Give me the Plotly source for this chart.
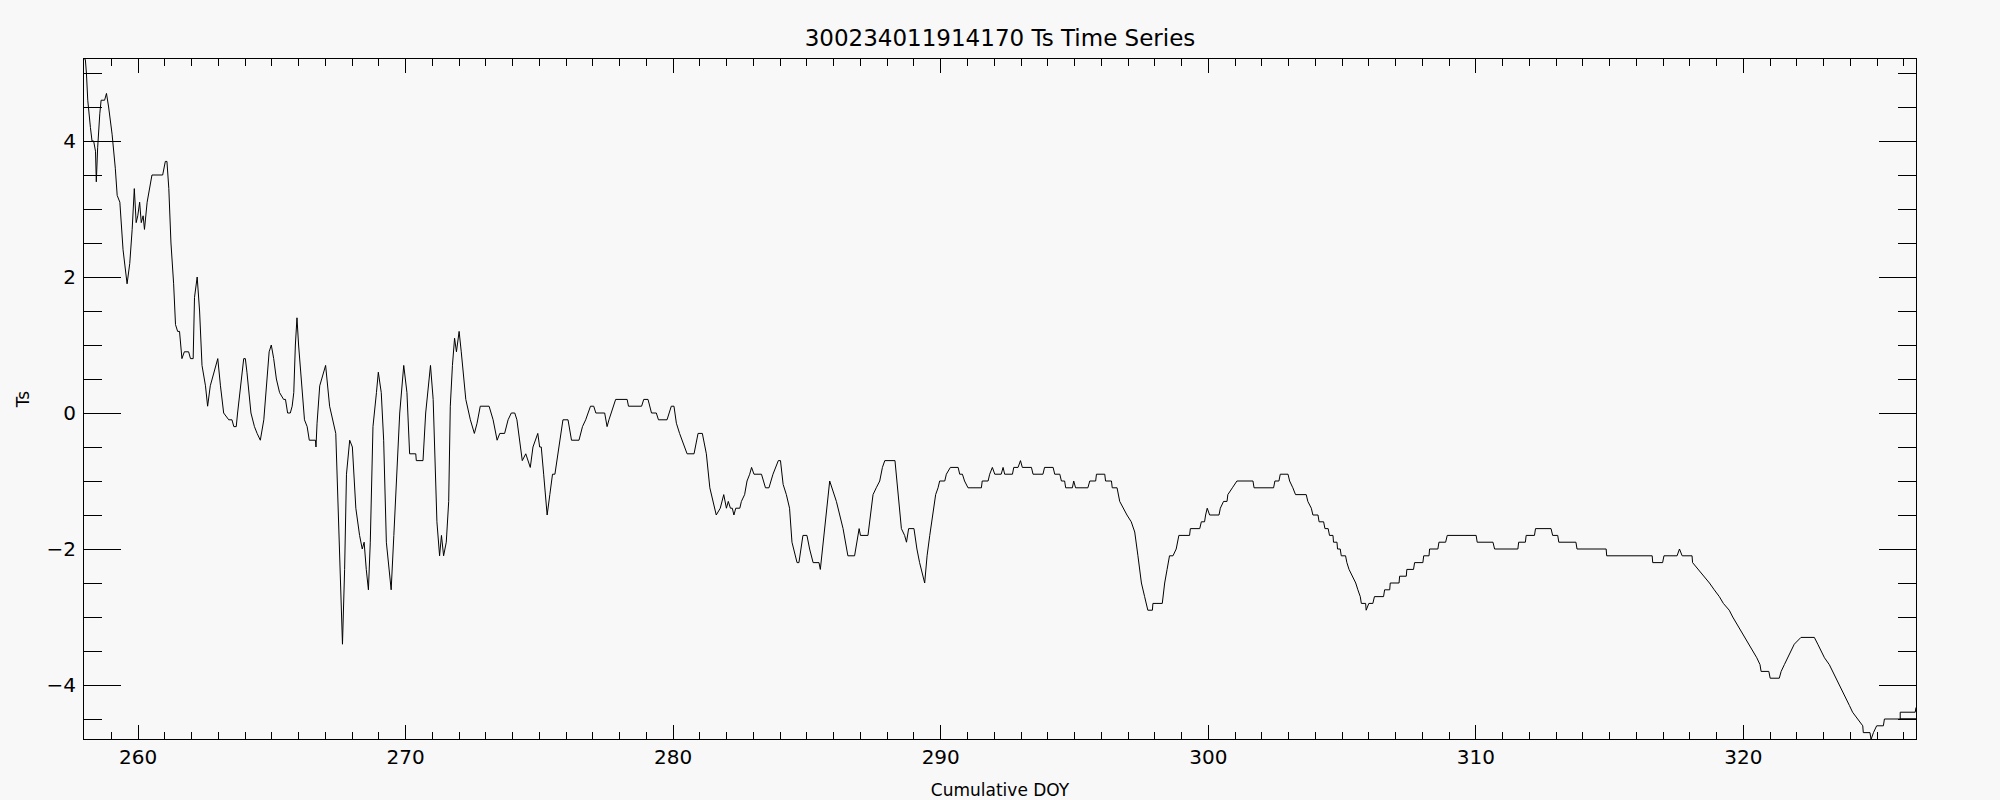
import plotly.graph_objects as go

# Cumulative day of year
doy = [
    258.00, 258.03, 258.07, 258.12, 258.22, 258.28, 258.34, 258.41, 258.44, 258.49,
    258.57, 258.62, 258.75, 258.82, 258.90, 259.03, 259.15, 259.22, 259.32, 259.44,
    259.59, 259.69, 259.78, 259.86, 259.93, 259.99, 260.06, 260.12, 260.19, 260.24,
    260.34, 260.52, 260.92, 261.02, 261.08, 261.15, 261.23, 261.33, 261.40, 261.48,
    261.55, 261.64, 261.73, 261.89, 261.96, 262.06, 262.11, 262.21, 262.30, 262.39,
    262.52, 262.60, 262.70, 262.85, 262.98, 263.08, 263.20, 263.39, 263.51, 263.58,
    263.67, 263.72, 263.85, 263.95, 264.01, 264.07, 264.22, 264.35, 264.45, 264.57,
    264.70, 264.80, 264.90, 264.98, 265.07, 265.17, 265.29, 265.44, 265.51, 265.59,
    265.69, 265.76, 265.82, 265.88, 265.94, 266.00, 266.13, 266.22, 266.32, 266.40,
    266.63, 266.65, 266.69, 266.79,
    267.01, 267.16, 267.39, 267.48, 267.56, 267.64, 267.72, 267.79, 267.91, 268.01,
    268.14, 268.28, 268.38, 268.45, 268.53, 268.61, 268.68, 268.78, 268.91, 268.98,
    269.09, 269.18, 269.28, 269.38, 269.46, 269.56, 269.68, 269.78, 269.93, 270.05,
    270.15, 270.38, 270.40, 270.65, 270.75, 270.93, 271.03, 271.13, 271.17, 271.27,
    271.34, 271.42, 271.52, 271.61, 271.67, 271.75, 271.83, 271.90, 272.00, 272.08,
    272.25, 272.42, 272.57, 272.67, 272.79, 273.12, 273.27, 273.42, 273.52, 273.70,
    273.83, 273.95, 274.08, 274.16, 274.26, 274.36, 274.49, 274.58, 274.66, 274.76,
    274.94, 275.01, 275.07, 275.16, 275.29, 275.39, 275.49, 275.58, 275.76,
    275.88, 276.07, 276.20, 276.48, 276.61, 276.73, 276.91, 277.03, 277.11, 277.44,
    277.53, 277.60, 277.69, 277.85, 278.28, 278.33, 278.82, 278.90, 279.06, 279.19,
    279.37, 279.45, 279.77, 279.93, 280.03, 280.12, 280.24, 280.43, 280.52, 280.78,
    280.93, 281.09, 281.24, 281.37, 281.49, 281.61, 281.76, 281.89, 281.99, 282.06,
    282.14, 282.21, 282.27, 282.34, 282.49, 282.55, 282.67, 282.76, 282.86, 282.93,
    283.02, 283.30, 283.45, 283.58, 283.73, 283.83, 283.93, 284.01, 284.11, 284.23,
    284.35, 284.44, 284.63, 284.70, 284.85, 285.00, 285.10, 285.23, 285.45, 285.50,
    285.60, 285.72, 285.85,
    286.10, 286.35, 286.53, 286.78, 286.95, 287.00, 287.28, 287.47, 287.59, 287.72,
    287.82, 287.91, 288.29, 288.40, 288.53, 288.65, 288.72, 288.80, 289.00, 289.11,
    289.21, 289.40, 289.49, 289.59, 289.71, 289.81, 289.90, 289.96, 290.15, 290.21,
    290.36, 290.65, 290.71, 290.81, 290.89, 291.02, 291.52, 291.55, 291.77, 291.83,
    291.93, 292.02, 292.26, 292.33, 292.39, 292.68, 292.73, 292.89, 292.98, 293.05,
    293.39, 293.45, 293.82, 293.88, 294.20, 294.26, 294.45, 294.51, 294.63, 294.67,
    294.92, 294.97, 295.04, 295.50, 295.57, 295.79, 295.82, 296.13, 296.16, 296.38,
    296.41, 296.59, 296.69, 296.81, 296.96, 297.12, 297.25, 297.37, 297.50, 297.62,
    297.74,
    297.91, 297.93, 298.28, 298.37, 298.46, 298.55, 298.68, 298.80, 298.90, 299.30,
    299.33, 299.68, 299.74, 299.86, 299.90, 299.96, 300.05, 300.40, 300.45, 300.57,
    300.70, 300.73, 300.90, 301.07, 301.67, 301.71, 302.44, 302.49, 302.64, 302.69,
    302.98, 303.04, 303.16, 303.26, 303.66, 303.72, 303.85, 303.91, 304.10, 304.14,
    304.31, 304.36, 304.48, 304.53, 304.66, 304.68, 304.81, 304.83, 304.93, 304.97,
    305.13, 305.18, 305.26, 305.38, 305.51, 305.59, 305.68, 305.72, 305.88, 305.90,
    306.00, 306.15, 306.21, 306.55, 306.59, 306.78, 306.80, 307.13, 307.15, 307.40,
    307.42, 307.67, 307.71, 308.02, 308.05, 308.25, 308.27, 308.58, 308.62, 308.87,
    308.93, 310.01, 310.05, 310.64, 310.70,
    311.57, 311.60, 311.85, 311.88, 312.19, 312.23, 312.81, 312.87, 313.06, 313.10,
    313.74, 313.78, 314.87, 314.89, 316.59, 316.61, 316.98, 317.03, 317.52, 317.61,
    317.71, 318.08, 318.10, 318.32, 318.54, 318.73, 318.91, 319.10, 319.25, 319.47,
    319.60, 319.75, 319.91, 320.04, 320.22, 320.35, 320.50, 320.62, 320.66, 320.95,
    321.00, 321.34, 321.41, 321.53, 321.66, 321.78, 321.90, 322.15, 322.65, 322.78,
    322.90, 323.03, 323.21, 323.34, 323.46, 323.59, 323.71, 323.84, 323.96, 324.08,
    324.27, 324.46, 324.48, 324.73, 324.77, 324.86, 324.98, 325.23, 325.27, 326.45,
    325.86, 325.86, 326.42, 326.45,
]

# Surface temperature Ts
ts = [
    5.2, 5.2, 5.0, 4.6, 4.2, 4.0, 4.0, 3.85, 3.4, 3.9,
    4.4, 4.6, 4.6, 4.7, 4.5, 4.1, 3.6, 3.2, 3.1, 2.4,
    1.9, 2.2, 2.7, 3.3, 2.8, 2.9, 3.1, 2.8, 2.9, 2.7,
    3.1, 3.5, 3.5, 3.7, 3.7, 3.3, 2.5, 1.9, 1.3, 1.2,
    1.2, 0.8, 0.9, 0.9, 0.8, 0.8, 1.7, 2.0, 1.5, 0.7,
    0.4, 0.1, 0.4, 0.6, 0.8, 0.4, 0.0, -0.1, -0.1, -0.2,
    -0.2, 0.0, 0.5, 0.8, 0.8, 0.6, 0.0, -0.2, -0.3, -0.4,
    -0.1, 0.4, 0.9, 1.0, 0.8, 0.5, 0.3, 0.2, 0.2, 0.0,
    0.0, 0.1, 0.3, 1.0, 1.4, 1.0, 0.3, -0.1, -0.2, -0.4,
    -0.4, -0.5, -0.15, 0.4,
    0.7, 0.1, -0.3, -1.3, -2.4, -3.4, -2.3, -0.9, -0.4, -0.5,
    -1.4, -1.8, -2.0, -1.9, -2.3, -2.6, -1.9, -0.2, 0.3, 0.6,
    0.3, -0.4, -1.9, -2.3, -2.6, -1.8, -0.9, 0.0, 0.7, 0.3,
    -0.6, -0.6, -0.7, -0.7, 0.0, 0.7, 0.2, -1.0, -1.6, -2.1,
    -1.8, -2.1, -1.9, -1.3, 0.1, 0.7, 1.1, 0.9, 1.2, 0.9,
    0.2, -0.1, -0.3, -0.15, 0.1, 0.1, -0.1, -0.4, -0.3, -0.3,
    -0.1, 0.0, 0.0, -0.1, -0.4, -0.7, -0.6, -0.7, -0.8, -0.5,
    -0.3, -0.5, -0.5, -0.9, -1.5, -1.2, -0.9, -0.9, -0.4,
    -0.1, -0.1, -0.4, -0.4, -0.2, -0.1, 0.1, 0.1, 0.0, 0.0,
    -0.2, -0.1, 0.0, 0.2, 0.2, 0.1, 0.1, 0.2, 0.2, 0.0,
    0.0, -0.1, -0.1, 0.1, 0.1, -0.15, -0.3, -0.5, -0.6, -0.6,
    -0.3, -0.3, -0.6, -1.1, -1.3, -1.5, -1.4, -1.2, -1.4, -1.3,
    -1.4, -1.4, -1.5, -1.4, -1.4, -1.3, -1.2, -1.0, -0.9, -0.8,
    -0.9, -0.9, -1.1, -1.1, -0.9, -0.8, -0.7, -0.7, -1.05, -1.2,
    -1.4, -1.9, -2.2, -2.2, -1.8, -1.8, -2.0, -2.2, -2.2, -2.3,
    -1.9, -1.5, -1.0,
    -1.3, -1.7, -2.1, -2.1, -1.7, -1.8, -1.8, -1.2, -1.1, -1.0,
    -0.8, -0.7, -0.7, -1.2, -1.7, -1.8, -1.9, -1.7, -1.7, -2.0,
    -2.2, -2.5, -2.1, -1.8, -1.5, -1.2, -1.1, -1.0, -1.0, -0.9,
    -0.8, -0.8, -0.9, -0.9, -1.0, -1.1, -1.1, -1.0, -1.0, -0.9,
    -0.8, -0.9, -0.9, -0.8, -0.9, -0.9, -0.8, -0.8, -0.7, -0.8,
    -0.8, -0.9, -0.9, -0.8, -0.8, -0.9, -0.9, -1.0, -1.0, -1.1,
    -1.1, -1.0, -1.1, -1.1, -1.0, -1.0, -0.9, -0.9, -1.0, -1.0,
    -1.1, -1.1, -1.3, -1.4, -1.5, -1.6, -1.75, -2.1, -2.5, -2.7,
    -2.9,
    -2.9, -2.8, -2.8, -2.5, -2.3, -2.1, -2.1, -2.0, -1.8, -1.8,
    -1.7, -1.7, -1.6, -1.6, -1.5, -1.4, -1.5, -1.5, -1.4, -1.3,
    -1.3, -1.2, -1.1, -1.0, -1.0, -1.1, -1.1, -1.0, -1.0, -0.9,
    -0.9, -1.0, -1.1, -1.2, -1.2, -1.3, -1.4, -1.5, -1.5, -1.6,
    -1.6, -1.7, -1.7, -1.8, -1.8, -1.9, -1.9, -2.0, -2.0, -2.1,
    -2.1, -2.2, -2.3, -2.4, -2.5, -2.6, -2.7, -2.8, -2.8, -2.9,
    -2.8, -2.8, -2.7, -2.7, -2.6, -2.6, -2.5, -2.5, -2.4, -2.4,
    -2.3, -2.3, -2.2, -2.2, -2.1, -2.1, -2.0, -2.0, -1.9, -1.9,
    -1.8, -1.8, -1.9, -1.9, -2.0,
    -2.0, -1.9, -1.9, -1.8, -1.8, -1.7, -1.7, -1.8, -1.8, -1.9,
    -1.9, -2.0, -2.0, -2.1, -2.1, -2.2, -2.2, -2.1, -2.1, -2.0,
    -2.1, -2.1, -2.2, -2.3, -2.4, -2.5, -2.6, -2.7, -2.8, -2.9,
    -3.0, -3.1, -3.2, -3.3, -3.4, -3.5, -3.6, -3.7, -3.8, -3.8,
    -3.9, -3.9, -3.8, -3.7, -3.6, -3.5, -3.4, -3.3, -3.3, -3.4,
    -3.5, -3.6, -3.7, -3.8, -3.9, -4.0, -4.1, -4.2, -4.3, -4.4,
    -4.5, -4.6, -4.7, -4.7, -4.8, -4.7, -4.6, -4.6, -4.5, -4.5,
    -4.5, -4.4, -4.4, -4.33,
]

x_range = [257.98, 326.45]
y_range = [-4.794, 5.206]

title_text = "300234011914170 Ts Time Series"
x_title = "Cumulative DOY"
y_title = "Ts"

BG = "#f8f8f8"
FONT = "DejaVu Sans"

fig = go.Figure()
fig.add_trace(go.Scatter(
    x=doy, y=ts, mode="lines",
    line=dict(color="black", width=1),
    showlegend=False, hoverinfo="skip",
))

fig.update_layout(
    width=2000, height=800,
    paper_bgcolor=BG, plot_bgcolor=BG,
    margin=dict(l=84, r=84, t=59, b=61, autoexpand=False),
    font=dict(family=FONT, color="black", size=20),
    title=dict(text=title_text, x=0.5, xanchor="center", y=1 - 38 / 800, yanchor="middle",
               font=dict(family=FONT, size=23, color="black")),
)

fig.update_xaxes(
    range=x_range, showgrid=False, zeroline=False,
    showline=True, linecolor="black", linewidth=1, mirror="allticks",
    ticks="inside", ticklen=14, tickwidth=1, tickcolor="black",
    tick0=0, dtick=10,
    minor=dict(ticks="inside", ticklen=7, tickwidth=1, tickcolor="black", dtick=1, showgrid=False),
    tickfont=dict(family=FONT, size=20, color="black"),
    title=dict(text=x_title, font=dict(family=FONT, size=17, color="black"), standoff=16),
)
fig.update_yaxes(
    range=y_range, showgrid=False, zeroline=False,
    showline=True, linecolor="black", linewidth=1, mirror="allticks",
    ticks="inside", ticklen=37, tickwidth=1, tickcolor="black",
    tick0=0, dtick=2,
    minor=dict(ticks="inside", ticklen=18, tickwidth=1, tickcolor="black", dtick=0.5, showgrid=False),
    tickfont=dict(family=FONT, size=20, color="black"),
    ticklabelstandoff=3,
    title=dict(text=y_title, font=dict(family=FONT, size=17, color="black"), standoff=12),
)

fig.write_html(
    "out.html",
    config={"displayModeBar": False},
    post_script="document.body.style.margin='0px';document.body.style.background='" + BG + "';",
)
